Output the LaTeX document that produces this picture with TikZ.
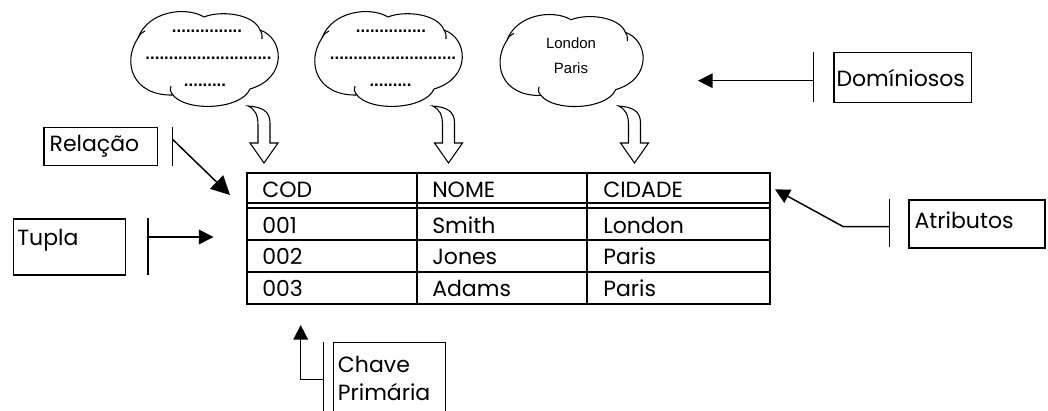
\documentclass[tikz,border=0pt]{standalone}
\usepackage{fontspec}
\setmainfont{Poppins}
\newfontfamily\arialfont{Liberation Sans}
\usetikzlibrary{arrows.meta}
\begin{document}
\begin{tikzpicture}[x=0.75pt,y=-0.75pt,
  labelbox/.style={draw, line width=0.9pt, anchor=north west, inner ysep=0pt,
    font=\fontsize{16.5}{21}\selectfont, align=left},
  celltext/.style={anchor=base west, inner sep=0pt, font=\fontsize{16.5}{21}\selectfont},
  bar/.style={line width=1.1pt},
  pointer/.style={line width=1.1pt, -{Triangle[length=11pt,width=11pt]}},
  bigpointer/.style={line width=1.1pt, -{Triangle[length=14pt,width=14pt]}},
  tableline/.style={line width=1.5pt},
  dots/.style={font=\arialfont\bfseries\fontsize{12.6}{14}\selectfont, inner sep=0pt},
  citytext/.style={font=\arialfont\fontsize{11.2}{12}\selectfont, inner sep=0pt, anchor=base},
  pics/cloud/.style={code={
    \draw[line width=0.8pt, line join=round]
      (-68,-22) .. controls (-58,-49) and (-20,-54) .. (-2,-43)
      .. controls (15,-50) and (48,-46) .. (54,-30)
      .. controls (78,-22) and (82,18) .. (44,29)
      .. controls (35,50) and (-20,52) .. (-33,35)
      .. controls (-74,36) and (-84,2) .. (-68,-22) -- cycle;
    \draw[line width=0.8pt] (-68,-22) .. controls (-66,-26) .. (-61,-29);
    \draw[line width=0.8pt] (54,-30) .. controls (56,-27) .. (56,-21);
    \draw[line width=0.8pt] (-33,35) .. controls (-36,31) .. (-35,26);
  }},
  pics/bentarrow/.style={code={
    \draw[line width=0.8pt, line join=miter, fill=white]
      (-6,-20) -- (-6,-38) .. controls (-6,-48) and (-9,-54) .. (-16,-57)
      .. controls (-2,-56) and (6,-52) .. (6,-40) -- (6,-20) -- (14,-20)
      -- (0,0) -- (-14,-20) -- cycle;
  }}
]
\useasboundingbox (0,0) rectangle (1048,410);
\clip (0,0) rectangle (1048,410);

% domain clouds
\pic at (206,60) {cloud};
\pic at (390,60) {cloud};
\pic[scale=0.97] at (573,61.5) {cloud};

\node[dots] (d1a) at (207,31) {...............};
\node[dots] (d1b) at (208.5,58) {...........................};
\node[dots] (d1c) at (205,85) {.........};
\node[dots] (d2a) at (391,31) {...............};
\node[dots] (d2b) at (393,58) {...........................};
\node[dots] (d2c) at (390.5,85) {.........};
\node[citytext] (c3a) at (571,48.5) {London};
\node[citytext] (c3b) at (571,74) {Paris};

% arrows from domains to columns
\pic at (264,163) {bentarrow};
\pic at (448.5,163) {bentarrow};
\pic at (634.5,163) {bentarrow};

% relation table
\draw[tableline] (247,173) rectangle (770,303.5);
\draw[tableline] (247,203) -- (770,203);
\draw[tableline] (247,208) -- (770,208);
\draw[tableline] (247,239.5) -- (770,239.5);
\draw[tableline] (247,271.5) -- (770,271.5);
\draw[tableline] (417,173) -- (417,303.5);
\draw[tableline] (587,173) -- (587,303.5);

\node[celltext] (hcod) at (262,197) {COD};
\node[celltext] (hnome) at (432,197) {NOME};
\node[celltext] (hcid) at (603,197) {CIDADE};
\node[celltext] (r1a) at (262,233) {001};
\node[celltext] (r1b) at (432,233) {Smith};
\node[celltext] (r1c) at (603,233) {London};
\node[celltext] (r2a) at (262,264.5) {002};
\node[celltext] (r2b) at (432,264.5) {Jones};
\node[celltext] (r2c) at (603,264.5) {Paris};
\node[celltext] (r3a) at (262,296.5) {003};
\node[celltext] (r3b) at (432,296.5) {Adams};
\node[celltext] (r3c) at (603,296.5) {Paris};

% Relação
\node[labelbox, inner xsep=4.3pt, text width=76.4pt, minimum height=28.7pt] (rel) at (43.3,126.7) {Relação};
\coordinate (relT) at (172.5,127);
\coordinate (relB) at (172.5,166);
\coordinate (relS) at (172.5,139.3);
\coordinate (relE) at (230,195);
\draw[bar] (relT) -- (relB);
\draw[bigpointer] (relS) -- (relE);

% Tupla
\node[labelbox, inner xsep=3pt, text width=78.2pt, minimum height=42pt] (tup) at (12.7,218.3) {Tupla\\[-6pt]\mbox{}};
\coordinate (tupT) at (148,218);
\coordinate (tupB) at (148,275);
\coordinate (tupS) at (148,237);
\coordinate (tupE) at (213.5,237);
\draw[bar] (tupT) -- (tupB);
\draw[pointer] (tupS) -- (tupE);

% Domíniosos
\node[labelbox, inner xsep=2pt, text width=99pt, minimum height=37pt] (dom) at (833.3,52.3) {Domíniosos};
\coordinate (domT) at (813.5,52.3);
\coordinate (domB) at (813.5,101.7);
\coordinate (domS) at (813.5,80.7);
\coordinate (domE) at (698,80.7);
\draw[bar] (domT) -- (domB);
\draw[pointer] (domS) -- (domE);

% Atributos
\node[labelbox, inner xsep=4.3pt, text width=93.4pt, minimum height=36pt, text depth=6pt] (atr) at (908.3,199.3) {Atributos};
\coordinate (atrT) at (889.3,199.3);
\coordinate (atrB) at (889.3,247.3);
\coordinate (atrS) at (889.3,226.7);
\coordinate (atrK) at (843.3,226.7);
\coordinate (atrE) at (775,189.3);
\draw[bar] (atrT) -- (atrB);
\draw[pointer] (atrS) -- (atrK) -- (atrE);

% Chave Primária
\node[labelbox, inner xsep=3.5pt, text width=77pt, minimum height=54pt] (chv) at (332.7,341.7) {Chave\\Primária};
\coordinate (chvT) at (323.3,341.7);
\coordinate (chvB) at (323.3,415);
\coordinate (chvS) at (323.3,379.3);
\coordinate (chvK) at (300.7,379.3);
\coordinate (chvE) at (300.7,325);
\draw[bar] (chvT) -- (chvB);
\draw[pointer] (chvS) -- (chvK) -- (chvE);
\end{tikzpicture}
\end{document}
